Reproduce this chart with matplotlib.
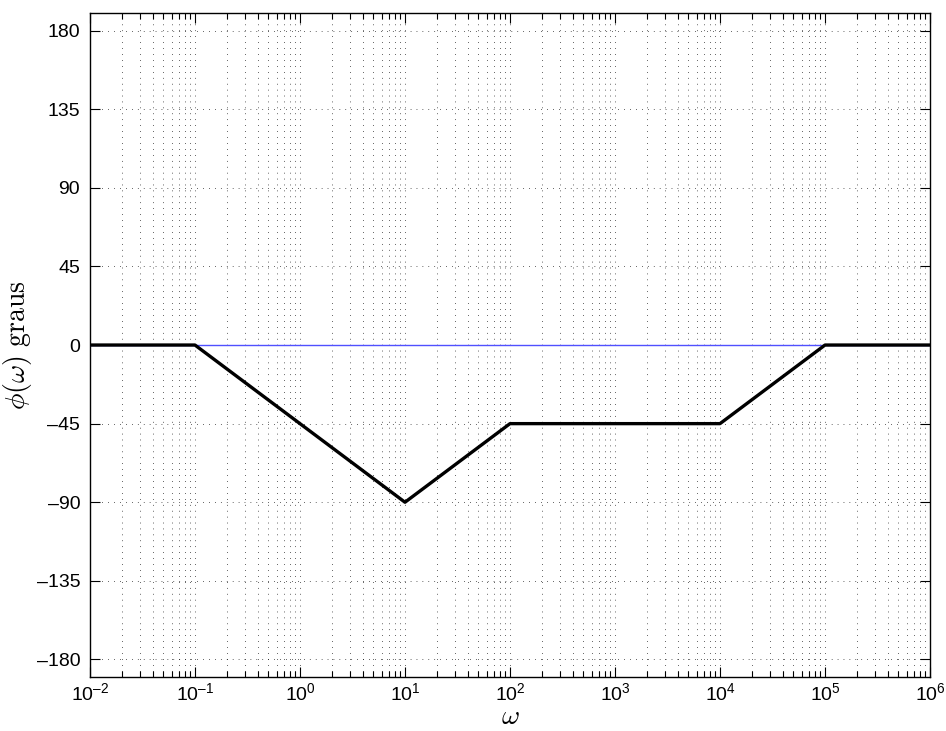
import numpy as np
import matplotlib
matplotlib.use('Agg')
import matplotlib.pyplot as plt
from matplotlib.ticker import LogLocator, NullFormatter

plt.rcParams['font.family'] = ['Liberation Sans', 'DejaVu Sans']
plt.rcParams['mathtext.fontset'] = 'custom'
plt.rcParams['mathtext.rm'] = 'Liberation Sans'
plt.rcParams['mathtext.it'] = 'Liberation Sans:italic'

# asymptotic phase of the Bode diagram (corner frequencies in rad/s)
w_corners = [1e-2, 1e-1, 1e1, 1e2, 1e4, 1e5, 1e6]
phase_deg = [0, 0, -90, -45, -45, 0, 0]
# zero-phase reference line
w_ref = [1e-2, 1e6]
phase_ref = [0, 0]
yticks = [-180, -135, -90, -45, 0, 45, 90, 135, 180]
xdecades = [-2, -1, 0, 1, 2, 3, 4, 5, 6]

fig = plt.figure(figsize=(9.46, 7.31), dpi=100)
ax = fig.add_axes([0.0951, 0.074, 0.888, 0.908])

ax.semilogx(w_ref, phase_ref, color='#5050ff', lw=1.0, zorder=3)
ax.semilogx(w_corners, phase_deg, color='black', lw=2.4, zorder=4)

ax.set_xlim(1e-2, 1e6)
ax.set_ylim(-190, 190)
ax.set_yticks(yticks)
ax.set_yticklabels([str(v).replace('-', '\u2013') for v in yticks])
ax.set_xticks([10.0 ** d for d in xdecades])
ax.set_xticklabels([r'$\mathregular{10^{%s}}$' % str(d).replace('-', '\u2013') for d in xdecades])
ax.xaxis.set_minor_locator(LogLocator(base=10, subs=np.arange(2, 10), numticks=100))
ax.xaxis.set_minor_formatter(NullFormatter())

dots = dict(color='black', linewidth=0.7, dashes=(0.6, 5.5))
ax.grid(True, which='major', axis='both', **dots)
ax.grid(True, which='minor', axis='x', **dots)
ax.set_axisbelow(True)

ax.tick_params(which='both', direction='in', top=True, right=True, labelsize=14, width=0.8)
ax.tick_params(which='major', length=7)
ax.tick_params(axis='y', which='major', pad=7)
ax.tick_params(axis='x', which='major', pad=4)
ax.tick_params(which='minor', length=4)
for s in ax.spines.values():
    s.set_linewidth(1.0)

ax.set_xlabel(r'$\omega$', fontsize=20, math_fontfamily='cm', labelpad=0)
ax.set_ylabel(r'$\phi(\omega)\ \mathrm{graus}$', fontsize=20, math_fontfamily='cm', labelpad=2)

fig.savefig('out.png', dpi=100)
